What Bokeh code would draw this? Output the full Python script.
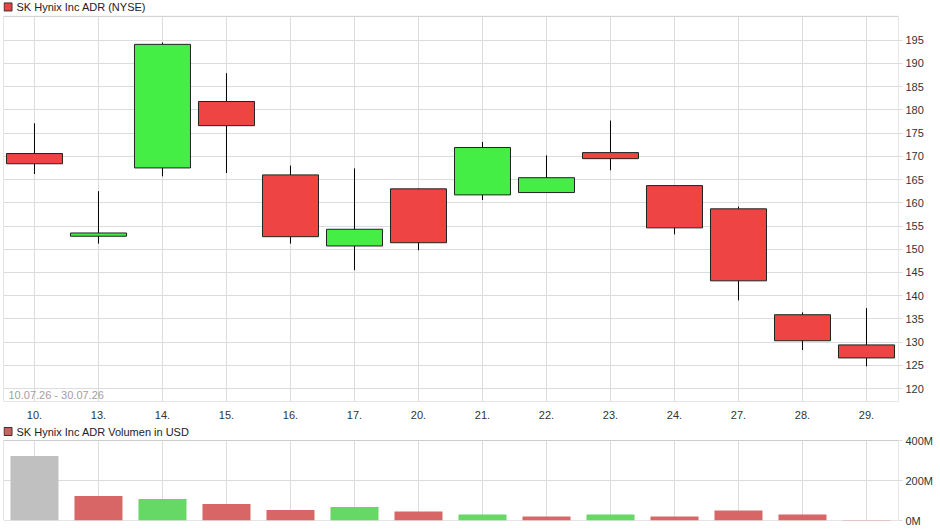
from bokeh.plotting import figure
from bokeh.layouts import column
from bokeh.models import FixedTicker, Label, ColumnDataSource, Range1d
from bokeh.embed import file_html
from bokeh.resources import INLINE

# ---- data ----
dates = ["10.", "13.", "14.", "15.", "16.", "17.", "20.", "21.", "22.", "23.", "24.", "27.", "28.", "29."]
opens = [170.6, 152.8, 167.5, 181.8, 166.0, 150.7, 163.0, 161.7, 162.2, 170.8, 163.7, 158.7, 135.9, 129.4]
highs = [177.1, 162.5, 194.5, 187.9, 168.0, 167.4, 163.1, 173.1, 170.2, 177.7, 163.7, 159.2, 136.4, 137.3]
lows = [166.2, 151.2, 165.7, 166.4, 151.2, 145.5, 149.8, 160.6, 162.2, 167.0, 153.2, 139.0, 128.3, 124.8]
closes = [168.4, 153.5, 194.1, 176.6, 152.7, 154.3, 151.4, 171.9, 165.4, 169.5, 154.6, 143.2, 130.3, 126.6]
volumes_m = [322, 122, 107, 82, 52, 67, 45, 30, 20, 30, 20, 50, 30, 3]
volume_dir = ["n", "d", "u", "d", "d", "u", "d", "u", "d", "u", "d", "d", "d", "d"]
price_ticks = [120, 125, 130, 135, 140, 145, 150, 155, 160, 165, 170, 175, 180, 185, 190, 195]
volume_ticks = [0, 200, 400]
period_text = "10.07.26 - 30.07.26"
title_price = "SK Hynix Inc ADR (NYSE)"
title_volume = "SK Hynix Inc ADR Volumen in USD"

# ---- layout constants ----
FONT = "Liberation Sans"
UP = "#44ee44"
DOWN = "#ee4444"
VOL_COL = {"n": "#c0c0c0", "u": "#66d866", "d": "#d86666"}
GRID = "#dcdcdc"
BORDER = "#cccccc"

X_LO, X_HI = -0.484, 13.5          # category index range of the plotting box
PX_PER_X = 64.0
P_LO, P_HI = 117.22, 200.13          # price box
PX_PER_P = 4.68
P_TOP = P_LO + 404 / PX_PER_P        # frame extends up to the title strip
V_LO, V_HI = 0, 400                  # volume box (millions)
PX_PER_V = 0.2
V_TOP = V_HI + 19 / PX_PER_V

idx = list(range(len(dates)))
src = ColumnDataSource(dict(
    x=idx,
    high=highs,
    low=lows,
    top=[max(o, c) for o, c in zip(opens, closes)],
    bottom=[min(o, c) for o, c in zip(opens, closes)],
    color=[UP if c >= o else DOWN for o, c in zip(opens, closes)],
))
vsrc = ColumnDataSource(dict(
    x=idx,
    vol=volumes_m,
    color=[VOL_COL[d] for d in volume_dir],
))

xr = Range1d(X_LO, X_HI)


def style(p, ticks, overrides, lo, hi, title_text, title_y, icon_fill):
    p.outline_line_color = None
    p.background_fill_color = "white"
    p.border_fill_color = "white"
    p.xgrid.visible = False
    p.ygrid.grid_line_color = GRID
    ax = p.yaxis[0]
    ax.ticker = FixedTicker(ticks=ticks)
    if overrides:
        ax.major_label_overrides = overrides
    ax.axis_line_color = None
    ax.major_tick_in = 0
    ax.major_tick_out = 4
    ax.major_tick_line_color = GRID
    ax.minor_tick_line_color = None
    ax.major_label_standoff = 3
    ax.major_label_text_font = FONT
    ax.major_label_text_font_size = "11px"
    ax.major_label_text_color = "#333333"
    # vertical grid lines and box border, limited to the plotting box
    p.segment(x0=idx, y0=[lo] * len(idx), x1=idx, y1=[hi] * len(idx), line_color=GRID, line_width=1)
    p.quad(left=[X_LO], right=[X_HI], bottom=[lo], top=[hi], fill_color=None,
           line_color=BORDER, line_width=1)
    # title strip: coloured square + text
    p.scatter(x=[X_LO + 4.5 / PX_PER_X], y=[title_y], marker="square", size=8,
              fill_color=icon_fill, line_color="#333333", line_width=1)
    p.add_layout(Label(x=X_LO, y=title_y, x_offset=13, text=title_text, text_font=FONT,
                       text_font_size="11px", text_color="#222222", text_baseline="middle"))


# ---- price chart ----
p1 = figure(width=940, height=421, x_range=xr, y_range=Range1d(P_LO, P_TOP),
            y_axis_location="right", toolbar_location=None, output_backend="svg",
            min_border_left=3, min_border_right=42, min_border_top=0, min_border_bottom=17)
style(p1, price_ticks, None, P_LO, P_HI, title_price, P_TOP - 6.5 / PX_PER_P, "#e84444")
p1.xaxis.ticker = FixedTicker(ticks=idx)
p1.xaxis.major_label_overrides = {i: d for i, d in enumerate(dates)}
p1.xaxis.axis_line_color = None
p1.xaxis.major_tick_line_color = None
p1.xaxis.minor_tick_line_color = None
p1.xaxis.major_label_standoff = 3
p1.xaxis.major_label_text_font = FONT
p1.xaxis.major_label_text_font_size = "11px"
p1.xaxis.major_label_text_color = "#333333"

p1.segment(x0="x", y0="low", x1="x", y1="high", source=src, line_color="black", line_width=1)
p1.vbar(x="x", width=0.875, top="top", bottom="bottom", source=src,
        fill_color="color", line_color="#222222", line_width=1)

p1.add_layout(Label(x=X_LO, y=P_LO + 7 / PX_PER_P, x_offset=5, text=period_text, text_font=FONT,
                    text_font_size="11px", text_color="#a0a0a0", text_baseline="middle"))

# ---- volume chart ----
p2 = figure(width=940, height=109, x_range=xr, y_range=Range1d(V_LO, V_TOP),
            y_axis_location="right", toolbar_location=None, output_backend="svg",
            min_border_left=3, min_border_right=42, min_border_top=0, min_border_bottom=10)
style(p2, volume_ticks, {t: f"{t}M" for t in volume_ticks}, V_LO, V_HI,
      title_volume, V_TOP - 10 / PX_PER_V, "#d06060")
p2.xaxis.visible = False
p2.vbar(x="x", width=0.75, top="vol", bottom=0, source=vsrc, fill_color="color", line_color=None)

layout = column(p1, p2, spacing=0)
open("out.html", "w").write(file_html(layout, INLINE))
